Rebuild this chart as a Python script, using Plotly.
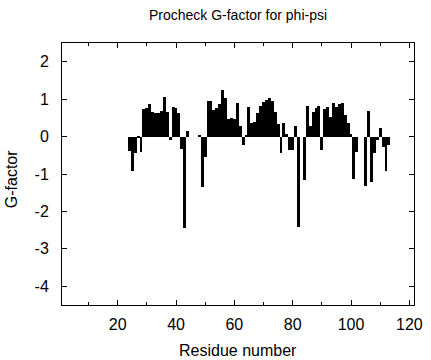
import plotly.graph_objects as go

residues = [24, 25, 26, 27, 28, 29, 30, 31, 32, 33, 34, 35, 36, 37, 38, 39, 40, 41, 42, 43, 44,
            48, 49, 50, 51, 52, 53, 54, 55, 56, 57, 58, 59, 60, 61, 62, 63, 64, 65, 66, 67, 68,
            69, 70, 71, 72, 73, 74, 75, 76, 77, 78, 79, 80, 81, 82, 84, 85, 86, 87, 88, 89, 90,
            91, 92, 93, 94, 95, 96, 97, 98, 99, 100, 101, 102, 105, 106, 107, 108, 109, 110,
            111, 112, 113]
gfactor = [-0.38, -0.93, -0.44, -0.05, -0.40, 0.74, 0.76, 0.86, 0.65, 0.62, 0.63, 0.69, 1.06,
           0.65, -0.08, 0.80, 0.77, 0.64, -0.34, -2.45, 0.16,
           0.02, -1.36, -0.54, 0.95, 0.95, 0.71, 0.76, 0.88, 1.25, 1.03, 0.46, 0.50, 0.46, 0.90,
           0.27, -0.22, 0.02, 0.78, 0.35, 0.40, 0.62,
           0.82, 0.92, 0.99, 1.04, 0.95, 0.66, 0.33, -0.44, 0.35, 0.08, -0.37, -0.36, 0.28, -2.41,
           -1.15, 0.82, 0.28, 0.65, 0.77, 0.82, -0.35,
           0.74, 0.79, 0.51, 0.90, 0.78, 0.86, 0.89, 0.58, 0.37, 0.08, -1.13, -0.42, -1.31, 0.68,
           -1.21, -0.45, -0.10, 0.23,
           -0.28, -0.91, -0.22]

x_ticks = [20, 40, 60, 80, 100, 120]
y_ticks = [-4, -3, -2, -1, 0, 1, 2]

font = "Liberation Sans, Arial, Helvetica, sans-serif"

fig = go.Figure()
fig.add_trace(go.Bar(
    x=residues, y=gfactor, width=1.0,
    marker=dict(color="black", line=dict(width=0)),
    showlegend=False,
))

fig.update_layout(
    width=431, height=360,
    margin=dict(l=62, r=17, t=43, b=55),
    paper_bgcolor="white", plot_bgcolor="white",
    bargap=0,
    font=dict(family=font, size=16, color="black"),
    title=dict(text="Procheck G-factor for phi-psi", x=0.5, xref="paper",
               y=1 - 15 / 360, yref="container", yanchor="middle",
               font=dict(family=font, size=14, color="black")),
    annotations=[
        dict(text="Residue number", xref="paper", yref="paper", x=0.5, y=-45 / 262,
             xanchor="center", yanchor="middle", showarrow=False,
             font=dict(family=font, size=16, color="black")),
        dict(text="G-factor", xref="paper", yref="paper", x=-51 / 352, y=0.48,
             xanchor="center", yanchor="middle", showarrow=False, textangle=-90,
             font=dict(family=font, size=16, color="black")),
    ],
)
fig.update_xaxes(
    range=[0.9, 121.6], tickvals=x_ticks, ticktext=[str(v) for v in x_ticks],
    ticks="inside", ticklen=5, tickwidth=1, tickcolor="black",
    minor=dict(tickvals=[10, 30, 50, 70, 90, 110], ticks="inside", ticklen=3,
               tickwidth=1, tickcolor="black"),
    showline=True, linecolor="black", linewidth=1, mirror="allticks",
    showgrid=False, zeroline=False, automargin=False,
    ticklabelstandoff=5,
)
fig.update_yaxes(
    range=[-4.5, 2.5], tickvals=y_ticks, ticktext=[str(v) for v in y_ticks],
    ticks="inside", ticklen=5, tickwidth=1, tickcolor="black",
    showline=True, linecolor="black", linewidth=1, mirror="allticks",
    showgrid=False, zeroline=False, automargin=False,
    ticklabelstandoff=9,
)

# Remove the default page margin so the figure sits at the window's top-left corner.
fig.write_html("out.html", config={"displayModeBar": False},
               post_script="document.body.style.margin='0';")
